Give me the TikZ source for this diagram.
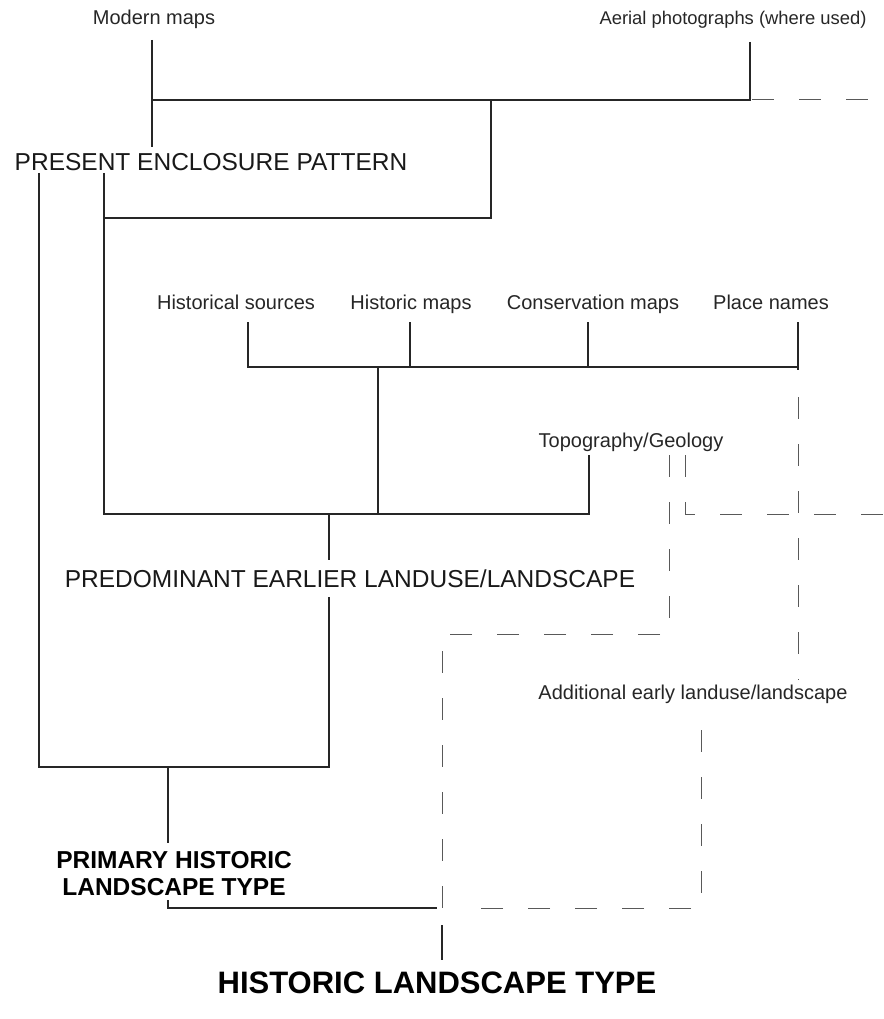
\documentclass[tikz,border=0pt]{standalone}
\usepackage{fontspec}
\setmainfont{Liberation Sans}
\begin{document}
\begin{tikzpicture}[x=1pt,y=-1pt,
  lbl/.style={font=\fontsize{20}{24}\selectfont, inner sep=0pt, text=black!85, anchor=base},
  head/.style={font=\fontsize{24.5}{29}\selectfont, inner sep=0pt, text=black!90, anchor=base},
  bhead/.style={font=\bfseries\fontsize{24.5}{27}\selectfont, align=center, inner sep=0pt, anchor=base},
  bbig/.style={font=\bfseries\fontsize{31}{36}\selectfont, inner sep=0pt, anchor=base},
  ln/.style={draw=black!85, line width=1.5pt},
  dsh/.style={draw=black!65, line width=1pt, dash pattern=on 22pt off 25pt}]
\useasboundingbox (0,0) rectangle (883,1019);

% labels
\node[lbl] (modern) at (154,25) {Modern maps};
\node[lbl, font=\fontsize{18.4}{22}\selectfont] (aerial) at (733,25) {Aerial photographs (where used)};
\node[head] (present) at (211,171) {PRESENT ENCLOSURE PATTERN};
\node[lbl] (hsrc) at (236,309) {Historical sources};
\node[lbl] (hmaps) at (411,309) {Historic maps};
\node[lbl] (cmaps) at (593,309) {Conservation maps};
\node[lbl] (pnames) at (771,309) {Place names};
\node[lbl] (topo) at (631,447) {Topography/Geology};
\node[head] (predom) at (350,587) {PREDOMINANT EARLIER LANDUSE/LANDSCAPE};
\node[lbl] (addl) at (693,699) {Additional early landuse/landscape};
\node[bhead] (primary) at (174,895) {PRIMARY HISTORIC\\LANDSCAPE TYPE};
\node[bbig] (hlt) at (437,993) {HISTORIC LANDSCAPE TYPE};

% junction coordinates
\coordinate (mA) at (152,40);  \coordinate (mB) at (152,147);
\coordinate (mJ) at (152,100); \coordinate (aJ) at (750,100);
\coordinate (aA) at (750,42);  \coordinate (aE) at (868,100);
\coordinate (tJ) at (491,100); \coordinate (tB) at (491,218);
\coordinate (pR) at (104,173); \coordinate (pRJ) at (104,218);
\coordinate (pRB) at (104,514);
\coordinate (pL) at (39,173);  \coordinate (pLB) at (39,767);
\coordinate (dB) at (329,767); \coordinate (dT) at (329,597);
\coordinate (dJ) at (329,514); \coordinate (dU) at (329,560);
\coordinate (gT) at (589,455); \coordinate (gJ) at (589,514);
\coordinate (hJ) at (378,367); \coordinate (hB) at (378,514);
\coordinate (s1) at (248,322); \coordinate (s1J) at (248,367);
\coordinate (s2) at (410,322); \coordinate (s2J) at (410,367);
\coordinate (s3) at (588,322); \coordinate (s3J) at (588,367);
\coordinate (s4) at (798,322); \coordinate (s4J) at (798,370);
\coordinate (qJ) at (168,767); \coordinate (qA) at (168,843);
\coordinate (qB) at (168,900); \coordinate (qC) at (168,908);
\coordinate (bJ) at (442,908); \coordinate (hA) at (442,925);
\coordinate (hZ) at (442,960);
% dashed coordinates
\coordinate (r1) at (798,397); \coordinate (r2) at (798,680);
\coordinate (c1) at (685,455); \coordinate (c2) at (685,514);
\coordinate (c3) at (883,514);
\coordinate (e1) at (669,455); \coordinate (e2) at (669,634);
\coordinate (e3) at (442,634);
\coordinate (f1) at (701,730); \coordinate (f2) at (701,908);

% solid connectors
\draw[ln] (mA) -- (mB);
\draw[ln] (aA) -- (aJ) -- (mJ);
\draw[ln] (tJ) -- (tB) -- (pRJ);
\draw[ln] (pR) -- (pRB) -- (gJ) -- (gT);
\draw[ln] (pL) -- (pLB) -- (dB) -- (dT);
\draw[ln] (dJ) -- (dU);
\draw[ln] (hJ) -- (hB);
\draw[ln] (s1) -- (s1J) -- (s4J |- s1J) -- (s4);
\draw[ln] (s4J |- s1J) -- (s4J);
\draw[ln] (s2) -- (s2J);
\draw[ln] (s3) -- (s3J);
\draw[ln] (qJ) -- (qA);
\draw[ln] (qB) -- (qC) -- ([xshift=-5pt]bJ);
\draw[ln] (hA) -- (hZ);

% dashed connectors
\draw[dsh] ([xshift=2pt]aJ) -- (aE);
\draw[dsh] (r1) -- (r2);
\draw[dsh] (c1) -- (c2) -- (c3);
\draw[dsh] (e1) -- (e2) -- (e3) -- (bJ);
\draw[dsh] (f1) -- (f2) -- ([xshift=20pt]bJ);
\end{tikzpicture}
\end{document}
